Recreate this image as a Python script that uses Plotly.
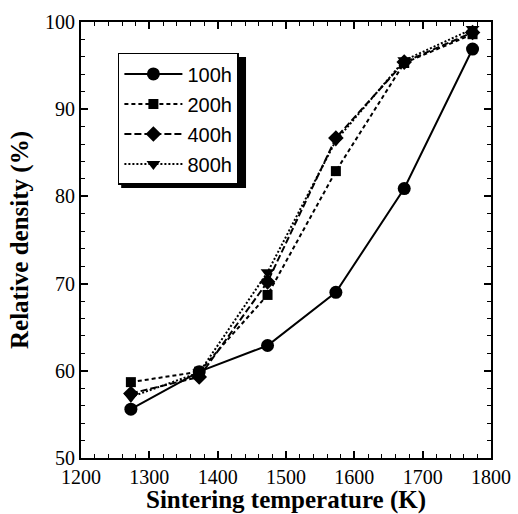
import plotly.graph_objects as go

temperature = [1273, 1373, 1473, 1573, 1673, 1773]
density_100h = [55.6, 59.9, 62.9, 69.0, 80.9, 96.9]
density_200h = [58.7, 59.9, 68.7, 82.9, 95.3, 98.6]
density_400h = [57.4, 59.3, 70.2, 86.7, 95.4, 98.8]
density_800h = [57.0, 59.8, 71.3, 86.4, 95.6, 99.2]

series_names = ["100h", "200h", "400h", "800h"]
series_values = [density_100h, density_200h, density_400h, density_800h]
styles = [
    dict(dash="solid", symbol="circle", size=13),
    dict(dash="4px,3px", symbol="square", size=10),
    dict(dash="7px,3px", symbol="diamond", size=12),
    dict(dash="2px,2px", symbol="triangle-down", size=12),
]

SERIF = "Liberation Serif"
SANS = "Liberation Sans"

fig = go.Figure()
for i, (name, vals, st) in enumerate(zip(series_names, series_values, styles)):
    fig.add_trace(go.Scatter(
        x=temperature, y=vals, name=name, mode="lines+markers",
        line=dict(color="black", width=2, dash=st["dash"]),
        marker=dict(symbol=st["symbol"], size=st["size"], color="black"),
        legendgroup=f"g{i}",
    ))

axis_common = dict(
    showgrid=False, zeroline=False, showline=True, linecolor="black", linewidth=2,
    mirror="allticks", ticks="inside", ticklen=7, tickwidth=1.5, tickcolor="black",
    automargin=False,
    tickfont=dict(family=SERIF, size=20, color="black"),
)

fig.update_xaxes(
    range=[1200, 1800], dtick=100, tick0=1200,
    minor=dict(dtick=20, ticks="inside", ticklen=4, tickwidth=1, tickcolor="black"),
    title=dict(text="<b>Sintering temperature (K)</b>", standoff=2,
               font=dict(family=SERIF, size=25, color="black")),
    **axis_common,
)
fig.update_yaxes(
    range=[50, 100], dtick=10, tick0=50,
    minor=dict(dtick=2, ticks="inside", ticklen=4, tickwidth=1, tickcolor="black"),
    title=dict(text="<b>Relative density (%)</b>", standoff=9,
               font=dict(family=SERIF, size=25, color="black")),
    **axis_common,
)

# legend drop shadow (offset a few px right/down from the legend box)
fig.add_shape(type="rect", xref="paper", yref="paper",
              x0=0.098, x1=0.4025, y0=0.619, y1=0.92,
              fillcolor="black", line=dict(width=0), layer="above")

fig.update_layout(
    width=518, height=514,
    margin=dict(l=81, r=27, t=22, b=56),
    font=dict(family=SERIF, color="black"),
    plot_bgcolor="white", paper_bgcolor="white",
    legend=dict(
        x=0.09, y=0.929, xanchor="left", yanchor="top",
        bordercolor="black", borderwidth=1.5, bgcolor="white",
        font=dict(family=SANS, size=20, color="black"),
        tracegroupgap=1, itemwidth=58,
    ),
)

fig.write_html("out.html", config={"displayModeBar": False},
               post_script="document.body.style.margin='0';")
